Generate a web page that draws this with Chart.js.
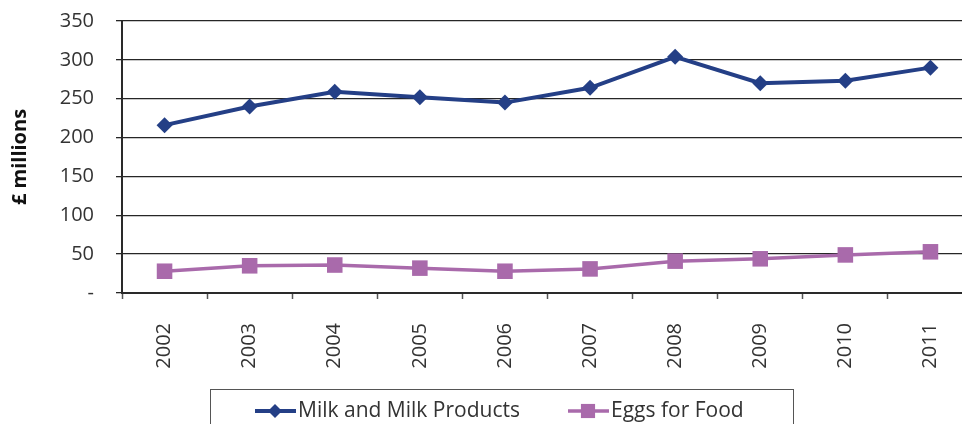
<!DOCTYPE html>
<html>
<head>
<meta charset="utf-8">
<script src="https://cdn.jsdelivr.net/npm/chart.js@4.4.1/dist/chart.umd.min.js"></script>
<style>
  html, body { margin: 0; padding: 0; background: #fff; overflow: hidden; }
  #wrap { width: 962px; height: 424px; overflow: hidden; }
</style>
</head>
<body>
<div id="wrap"><canvas id="myChart" width="984" height="424"></canvas></div>
<script>
// Yearly values, £ millions
var years = ['2002', '2003', '2004', '2005', '2006', '2007', '2008', '2009', '2010', '2011'];
var milk = [216, 240, 259, 252, 245, 264, 304, 270, 273, 290];
var eggs = [28, 35, 36, 32, 28, 31, 41, 44, 49, 53];
var yMin = 0, yMax = 350, yStep = 50;

var fontFamily = '"Open Sans", "DejaVu Sans", sans-serif';
var textColor = '#333333';
var axisColor = '#2a2a2a';

// legend drawn as a framed box under the axis labels
var boxLegend = {
    id: 'boxLegend',
    afterDraw: function (chart) {
        var ctx = chart.ctx;
        var cy = 411;
        var slots = [255, 568];
        ctx.save();
        ctx.strokeStyle = '#555555';
        ctx.lineWidth = 1;
        ctx.strokeRect(210.5, 389.5, 583, 50);
        ctx.font = '21px ' + fontFamily;
        ctx.textBaseline = 'middle';
        ctx.fillStyle = textColor;
        chart.data.datasets.forEach(function (ds, i) {
            var x0 = slots[i];
            ctx.strokeStyle = ds.borderColor;
            ctx.lineWidth = ds.borderWidth;
            ctx.beginPath();
            ctx.moveTo(x0, cy);
            ctx.lineTo(x0 + 41, cy);
            ctx.stroke();
            ctx.fillStyle = ds.pointBackgroundColor;
            Chart.helpers.drawPoint(ctx, {
                pointStyle: ds.pointStyle,
                radius: ds.pointRadius - 1,
                rotation: 0,
                borderWidth: 0
            }, x0 + 20, cy);
            ctx.fillStyle = textColor;
            ctx.fillText(ds.label, x0 + 43, cy);
        });
        ctx.restore();
    }
};

var ctx = document.getElementById('myChart').getContext('2d');

var myLineChart = new Chart(ctx, {
    type: 'line',
    data: {
        labels: years,
        datasets: [
            {
                label: 'Milk and Milk Products',
                data: milk,
                borderColor: '#243f86',
                backgroundColor: '#243f86',
                pointBackgroundColor: '#243f86',
                pointBorderWidth: 0,
                borderWidth: 4,
                pointStyle: 'rectRot',
                pointRadius: 8,
                pointHoverRadius: 8,
                tension: 0
            },
            {
                label: 'Eggs for Food',
                data: eggs,
                borderColor: '#a96aab',
                backgroundColor: '#a96aab',
                pointBackgroundColor: '#a96aab',
                pointBorderWidth: 0,
                borderWidth: 3.5,
                pointStyle: 'rect',
                pointRadius: 11,
                pointHoverRadius: 11,
                tension: 0
            }
        ]
    },
    options: {
        responsive: false,
        animation: false,
        layout: { padding: { top: 21, right: 4, left: 0, bottom: 0 } },
        plugins: {
            legend: { display: false },
            tooltip: { enabled: false }
        },
        scales: {
            x: {
                offset: true,
                afterFit: function (scale) { scale.height = 131; },
                grid: {
                    offset: true,
                    drawOnChartArea: false,
                    tickLength: 6,
                    tickColor: '#555555',
                    tickWidth: 1.5
                },
                border: { color: axisColor, width: 2 },
                ticks: {
                    minRotation: 90,
                    maxRotation: 90,
                    padding: 24,
                    color: textColor,
                    font: { family: fontFamily, size: 20 }
                }
            },
            y: {
                min: yMin,
                max: yMax,
                afterFit: function (scale) {
                    scale.width = 122;
                    scale.paddingTop = 0;
                    scale.paddingBottom = 0;
                },
                grid: {
                    color: '#262626',
                    lineWidth: 1.3,
                    tickLength: 6,
                    tickColor: '#262626'
                },
                border: { color: axisColor, width: 2 },
                ticks: {
                    stepSize: yStep,
                    padding: 22,
                    color: textColor,
                    font: { family: fontFamily, size: 20 },
                    callback: function (v) { return v === 0 ? '-' : v; }
                },
                title: {
                    display: true,
                    text: '£ millions',
                    color: '#111111',
                    padding: { top: 8, bottom: 0 },
                    font: { family: fontFamily, size: 20, weight: 'bold' }
                }
            }
        }
    },
    plugins: [boxLegend]
});
</script>
</body>
</html>
